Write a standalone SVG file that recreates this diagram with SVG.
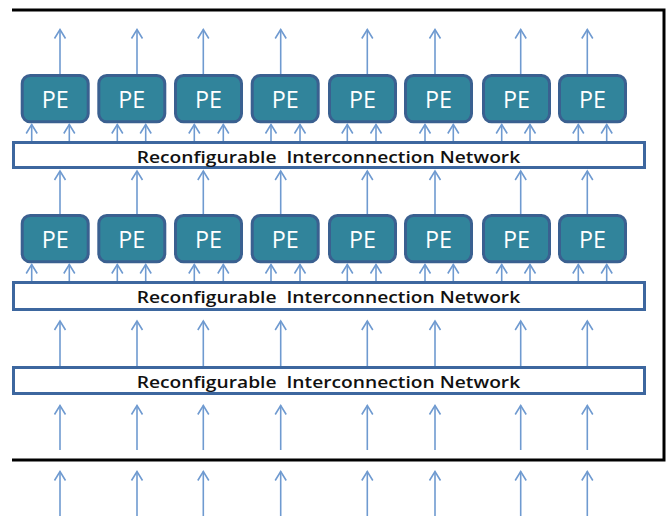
<svg xmlns="http://www.w3.org/2000/svg" width="668" height="516" viewBox="0 0 668 516">
<style>
.pe rect{fill:#31849b;stroke:#3a6090;stroke-width:3}
.pe text{fill:#ffffff;font-family:"Open Sans","Liberation Sans",Arial,sans-serif;font-size:23px;text-anchor:middle}
.net rect{fill:#ffffff;stroke:#3d679f;stroke-width:3}
.net text{fill:#111111;font-family:"Open Sans","Liberation Sans",Arial,sans-serif;font-size:16.4px;font-weight:600;white-space:pre}
.conn line{stroke:#6f9ad0;stroke-width:1.6;marker-end:url(#ah)}
.frame{fill:none;stroke:#000000;stroke-width:3}
</style>
<defs>
<marker id="ah" markerUnits="userSpaceOnUse" orient="auto" refX="0" refY="0" markerWidth="20" markerHeight="20" overflow="visible">
<path d="M-9,-5.5 L0,0 L-9,5.5" fill="none" stroke="#6f9ad0" stroke-width="1.6"/>
</marker>
</defs>
<rect width="668" height="516" fill="#ffffff"/>
<polyline class="frame" points="12,10 664,10 664,460 12,460"/>
<g id="net1" class="net"><rect x="13.5" y="142.5" width="631" height="25"/><text x="136.7" y="162.7" textLength="383.5" lengthAdjust="spacingAndGlyphs">Reconfigurable  Interconnection Network</text></g>
<g id="net2" class="net"><rect x="13.5" y="282.5" width="631" height="27"/><text x="136.7" y="303.4" textLength="383.5" lengthAdjust="spacingAndGlyphs">Reconfigurable  Interconnection Network</text></g>
<g id="net3" class="net"><rect x="13.5" y="367.5" width="631" height="26"/><text x="136.7" y="387.7" textLength="383.5" lengthAdjust="spacingAndGlyphs">Reconfigurable  Interconnection Network</text></g>
<g id="pe1_1" class="pe"><rect x="22.2" y="75.5" width="66" height="46.3" rx="8"/><text x="55.2" y="107.7" textLength="27" lengthAdjust="spacingAndGlyphs">PE</text></g>
<g id="pe1_2" class="pe"><rect x="98.8" y="75.5" width="66" height="46.3" rx="8"/><text x="131.8" y="107.7" textLength="27" lengthAdjust="spacingAndGlyphs">PE</text></g>
<g id="pe1_3" class="pe"><rect x="175.5" y="75.5" width="66" height="46.3" rx="8"/><text x="208.5" y="107.7" textLength="27" lengthAdjust="spacingAndGlyphs">PE</text></g>
<g id="pe1_4" class="pe"><rect x="252.2" y="75.5" width="66" height="46.3" rx="8"/><text x="285.2" y="107.7" textLength="27" lengthAdjust="spacingAndGlyphs">PE</text></g>
<g id="pe1_5" class="pe"><rect x="329.5" y="75.5" width="66" height="46.3" rx="8"/><text x="362.5" y="107.7" textLength="27" lengthAdjust="spacingAndGlyphs">PE</text></g>
<g id="pe1_6" class="pe"><rect x="405.5" y="75.5" width="66" height="46.3" rx="8"/><text x="438.5" y="107.7" textLength="27" lengthAdjust="spacingAndGlyphs">PE</text></g>
<g id="pe1_7" class="pe"><rect x="483.5" y="75.5" width="66" height="46.3" rx="8"/><text x="516.5" y="107.7" textLength="27" lengthAdjust="spacingAndGlyphs">PE</text></g>
<g id="pe1_8" class="pe"><rect x="559.5" y="75.5" width="66" height="46.3" rx="8"/><text x="592.5" y="107.7" textLength="27" lengthAdjust="spacingAndGlyphs">PE</text></g>
<g id="pe2_1" class="pe"><rect x="22.2" y="215.5" width="66" height="46.3" rx="8"/><text x="55.2" y="247.7" textLength="27" lengthAdjust="spacingAndGlyphs">PE</text></g>
<g id="pe2_2" class="pe"><rect x="98.8" y="215.5" width="66" height="46.3" rx="8"/><text x="131.8" y="247.7" textLength="27" lengthAdjust="spacingAndGlyphs">PE</text></g>
<g id="pe2_3" class="pe"><rect x="175.5" y="215.5" width="66" height="46.3" rx="8"/><text x="208.5" y="247.7" textLength="27" lengthAdjust="spacingAndGlyphs">PE</text></g>
<g id="pe2_4" class="pe"><rect x="252.2" y="215.5" width="66" height="46.3" rx="8"/><text x="285.2" y="247.7" textLength="27" lengthAdjust="spacingAndGlyphs">PE</text></g>
<g id="pe2_5" class="pe"><rect x="329.5" y="215.5" width="66" height="46.3" rx="8"/><text x="362.5" y="247.7" textLength="27" lengthAdjust="spacingAndGlyphs">PE</text></g>
<g id="pe2_6" class="pe"><rect x="405.5" y="215.5" width="66" height="46.3" rx="8"/><text x="438.5" y="247.7" textLength="27" lengthAdjust="spacingAndGlyphs">PE</text></g>
<g id="pe2_7" class="pe"><rect x="483.5" y="215.5" width="66" height="46.3" rx="8"/><text x="516.5" y="247.7" textLength="27" lengthAdjust="spacingAndGlyphs">PE</text></g>
<g id="pe2_8" class="pe"><rect x="559.5" y="215.5" width="66" height="46.3" rx="8"/><text x="592.5" y="247.7" textLength="27" lengthAdjust="spacingAndGlyphs">PE</text></g>
<g id="connectors" class="conn">
<line x1="60" y1="74" x2="60" y2="29.5"/>
<line x1="137" y1="74" x2="137" y2="29.5"/>
<line x1="203.3" y1="74" x2="203.3" y2="29.5"/>
<line x1="280.7" y1="74" x2="280.7" y2="29.5"/>
<line x1="367.3" y1="74" x2="367.3" y2="29.5"/>
<line x1="435" y1="74" x2="435" y2="29.5"/>
<line x1="520.7" y1="74" x2="520.7" y2="29.5"/>
<line x1="587.3" y1="74" x2="587.3" y2="29.5"/>
<line x1="31.7" y1="141" x2="31.7" y2="124.5"/><line x1="69.3" y1="141" x2="69.3" y2="124.5"/>
<line x1="117.3" y1="141" x2="117.3" y2="124.5"/><line x1="145.7" y1="141" x2="145.7" y2="124.5"/>
<line x1="194.3" y1="141" x2="194.3" y2="124.5"/><line x1="223.3" y1="141" x2="223.3" y2="124.5"/>
<line x1="271" y1="141" x2="271" y2="124.5"/><line x1="300" y1="141" x2="300" y2="124.5"/>
<line x1="347.3" y1="141" x2="347.3" y2="124.5"/><line x1="376" y1="141" x2="376" y2="124.5"/>
<line x1="425" y1="141" x2="425" y2="124.5"/><line x1="453.3" y1="141" x2="453.3" y2="124.5"/>
<line x1="501.7" y1="141" x2="501.7" y2="124.5"/><line x1="530" y1="141" x2="530" y2="124.5"/>
<line x1="578.3" y1="141" x2="578.3" y2="124.5"/><line x1="606.7" y1="141" x2="606.7" y2="124.5"/>
<line x1="60" y1="214" x2="60" y2="171"/>
<line x1="137" y1="214" x2="137" y2="171"/>
<line x1="203.3" y1="214" x2="203.3" y2="171"/>
<line x1="280.7" y1="214" x2="280.7" y2="171"/>
<line x1="367.3" y1="214" x2="367.3" y2="171"/>
<line x1="435" y1="214" x2="435" y2="171"/>
<line x1="520.7" y1="214" x2="520.7" y2="171"/>
<line x1="587.3" y1="214" x2="587.3" y2="171"/>
<line x1="31.7" y1="281" x2="31.7" y2="264.5"/><line x1="69.3" y1="281" x2="69.3" y2="264.5"/>
<line x1="117.3" y1="281" x2="117.3" y2="264.5"/><line x1="145.7" y1="281" x2="145.7" y2="264.5"/>
<line x1="194.3" y1="281" x2="194.3" y2="264.5"/><line x1="223.3" y1="281" x2="223.3" y2="264.5"/>
<line x1="271" y1="281" x2="271" y2="264.5"/><line x1="300" y1="281" x2="300" y2="264.5"/>
<line x1="347.3" y1="281" x2="347.3" y2="264.5"/><line x1="376" y1="281" x2="376" y2="264.5"/>
<line x1="425" y1="281" x2="425" y2="264.5"/><line x1="453.3" y1="281" x2="453.3" y2="264.5"/>
<line x1="501.7" y1="281" x2="501.7" y2="264.5"/><line x1="530" y1="281" x2="530" y2="264.5"/>
<line x1="578.3" y1="281" x2="578.3" y2="264.5"/><line x1="606.7" y1="281" x2="606.7" y2="264.5"/>
<line x1="60" y1="366" x2="60" y2="321"/>
<line x1="137" y1="366" x2="137" y2="321"/>
<line x1="203.3" y1="366" x2="203.3" y2="321"/>
<line x1="280.7" y1="366" x2="280.7" y2="321"/>
<line x1="367.3" y1="366" x2="367.3" y2="321"/>
<line x1="435" y1="366" x2="435" y2="321"/>
<line x1="520.7" y1="366" x2="520.7" y2="321"/>
<line x1="587.3" y1="366" x2="587.3" y2="321"/>
<line x1="60" y1="450" x2="60" y2="405.5"/>
<line x1="137" y1="450" x2="137" y2="405.5"/>
<line x1="203.3" y1="450" x2="203.3" y2="405.5"/>
<line x1="280.7" y1="450" x2="280.7" y2="405.5"/>
<line x1="367.3" y1="450" x2="367.3" y2="405.5"/>
<line x1="435" y1="450" x2="435" y2="405.5"/>
<line x1="520.7" y1="450" x2="520.7" y2="405.5"/>
<line x1="587.3" y1="450" x2="587.3" y2="405.5"/>
<line x1="60" y1="516" x2="60" y2="471.5"/>
<line x1="137" y1="516" x2="137" y2="471.5"/>
<line x1="203.3" y1="516" x2="203.3" y2="471.5"/>
<line x1="280.7" y1="516" x2="280.7" y2="471.5"/>
<line x1="367.3" y1="516" x2="367.3" y2="471.5"/>
<line x1="435" y1="516" x2="435" y2="471.5"/>
<line x1="520.7" y1="516" x2="520.7" y2="471.5"/>
<line x1="587.3" y1="516" x2="587.3" y2="471.5"/>
</g>
</svg>
